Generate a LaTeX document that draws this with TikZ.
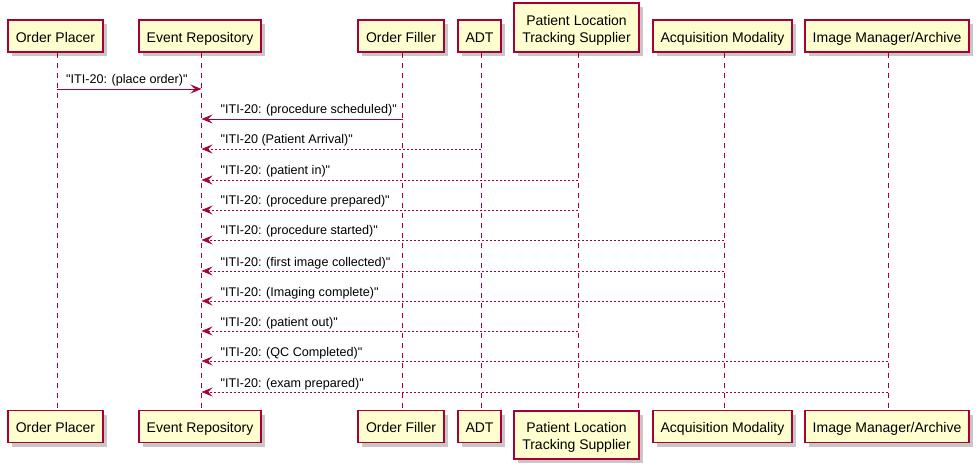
\documentclass[tikz,border=0pt]{standalone}
\usepackage{fontspec}
\setmainfont{Liberation Sans}[Ligatures=TeXOff]
\usetikzlibrary{arrows.meta,shadows}
\definecolor{pborder}{HTML}{A80036}
\definecolor{pfill}{HTML}{FEFECE}
\begin{document}
\begin{tikzpicture}[x=1pt,y=-1pt,
  participant/.style={draw=pborder, fill=pfill, line width=1.3pt, minimum height=32pt,
    inner sep=0pt, font=\fontsize{14}{16.7}\selectfont, align=center,
    drop shadow={shadow xshift=4pt, shadow yshift=-4pt, fill=black, opacity=0.22}},
  single/.style={participant, text height=15.8pt, text depth=3pt},
  lifeline/.style={draw=pborder, line width=0.9pt, dash pattern=on 5pt off 5pt},
  msg/.style={draw=pborder, line width=0.9pt, -{Stealth[length=11pt,width=9pt,inset=4.5pt]}},
  dotmsg/.style={msg, dash pattern=on 2pt off 2pt},
  lbl/.style={font=\fontsize{12.6}{15}\selectfont, inner sep=0pt, anchor=base west}
]
\useasboundingbox (0,0) rectangle (979,470);
% top participants
\node[single, minimum width=95pt] (opT) at (55.5,36) {Order Placer};
\node[single, minimum width=122pt] (erT) at (200,36) {Event Repository};
\node[single, minimum width=86pt] (ofT) at (401,36) {Order Filler};
\node[single, minimum width=43pt] (adtT) at (479.5,36) {ADT};
\node[participant, minimum width=125pt, minimum height=49pt] (plT) at (576.5,27.5) {\rule{0pt}{16.5pt}Patient Location\\Tracking Supplier};
\node[single, minimum width=139pt] (amT) at (722.5,36) {Acquisition Modality};
\node[single, minimum width=164pt] (imT) at (887,36) {Image Manager/Archive};
% bottom participants
\node[single, minimum width=95pt] (opB) at (55.5,426.5) {Order Placer};
\node[single, minimum width=122pt] (erB) at (200,426.5) {Event Repository};
\node[single, minimum width=86pt] (ofB) at (401,426.5) {Order Filler};
\node[single, minimum width=43pt] (adtB) at (479.5,426.5) {ADT};
\node[participant, minimum width=125pt, minimum height=48pt] (plB) at (576.5,435) {\rule{0pt}{15.5pt}Patient Location\\Tracking Supplier};
\node[single, minimum width=139pt] (amB) at (722.5,426.5) {Acquisition Modality};
\node[single, minimum width=164pt] (imB) at (887,426.5) {Image Manager/Archive};
% lifeline anchors
\coordinate (op) at ([xshift=1.5pt]opT.south);
\coordinate (er) at ([xshift=1.5pt]erT.south);
\coordinate (of) at ([xshift=1.5pt]ofT.south);
\coordinate (adt) at ([xshift=1.5pt]adtT.south);
\coordinate (pl) at ([xshift=1.5pt]plT.south);
\coordinate (am) at ([xshift=1.5pt]amT.south);
\coordinate (im) at ([xshift=1pt]imT.south);
% lifelines
\draw[lifeline] (op) -- ([xshift=1.5pt]opB.north);
\draw[lifeline] (er) -- ([xshift=1.5pt]erB.north);
\draw[lifeline] (of) -- ([xshift=1.5pt]ofB.north);
\draw[lifeline] (adt) -- ([xshift=1.5pt]adtB.north);
\draw[lifeline] (pl) -- ([xshift=1.5pt]plB.north);
\draw[lifeline] (am) -- ([xshift=1.5pt]amB.north);
\draw[lifeline] (im) -- ([xshift=1pt]imB.north);
% messages
\draw[msg] (op |- 0,89) -- (er |- 0,89) node[lbl, at start, xshift=8.7pt, yshift=5pt] (m1) {"ITI-20: (place order)"};
\draw[msg] (of |- 0,119) -- (er |- 0,119) node[lbl, at end, xshift=18.7pt, yshift=5pt] (m2) {"ITI-20: (procedure scheduled)"};
\draw[dotmsg] (adt |- 0,149) -- (er |- 0,149) node[lbl, at end, xshift=18.7pt, yshift=5pt] (m3) {"ITI-20 (Patient Arrival)"};
\draw[dotmsg] (pl |- 0,180) -- (er |- 0,180) node[lbl, at end, xshift=18.7pt, yshift=5pt] (m4) {"ITI-20: (patient in)"};
\draw[dotmsg] (pl |- 0,210) -- (er |- 0,210) node[lbl, at end, xshift=18.7pt, yshift=5pt] (m5) {"ITI-20: (procedure prepared)"};
\draw[dotmsg] (am |- 0,240) -- (er |- 0,240) node[lbl, at end, xshift=18.7pt, yshift=5pt] (m6) {"ITI-20: (procedure started)"};
\draw[dotmsg] (am |- 0,271) -- (er |- 0,271) node[lbl, at end, xshift=18.7pt, yshift=5pt] (m7) {"ITI-20: (first image collected)"};
\draw[dotmsg] (am |- 0,301) -- (er |- 0,301) node[lbl, at end, xshift=18.7pt, yshift=5pt] (m8) {"ITI-20: (Imaging complete)"};
\draw[dotmsg] (pl |- 0,331) -- (er |- 0,331) node[lbl, at end, xshift=18.7pt, yshift=5pt] (m9) {"ITI-20: (patient out)"};
\draw[dotmsg] (im |- 0,361) -- (er |- 0,361) node[lbl, at end, xshift=18.7pt, yshift=5pt] (m10) {"ITI-20: (QC Completed)"};
\draw[dotmsg] (im |- 0,392) -- (er |- 0,392) node[lbl, at end, xshift=18.7pt, yshift=5pt] (m11) {"ITI-20: (exam prepared)"};
\end{tikzpicture}
\end{document}
